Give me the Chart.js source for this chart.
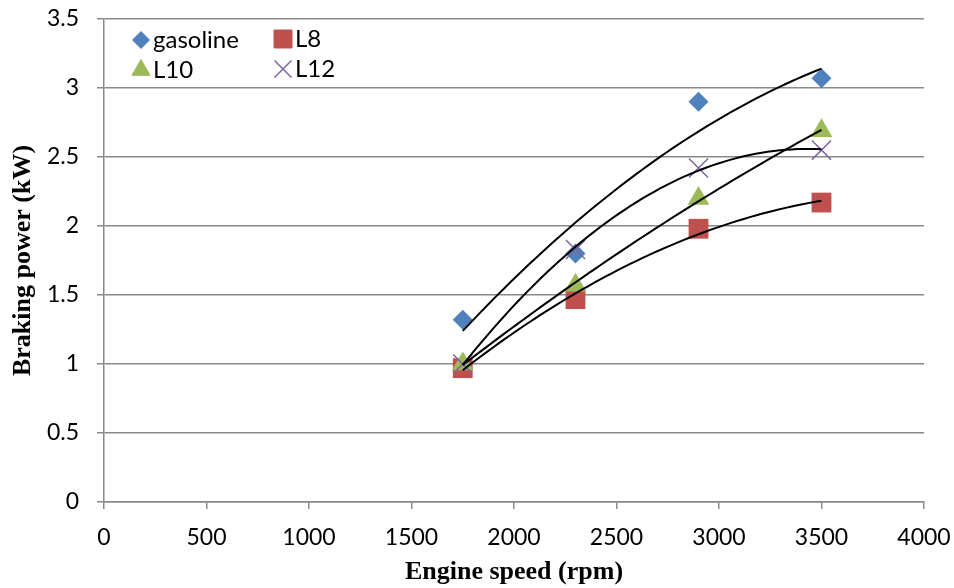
<!DOCTYPE html>
<html>
<head>
<meta charset="utf-8">
<script src="https://cdn.jsdelivr.net/npm/chart.js@4"></script>
<style>
  body { margin: 0; background: #fff; }
  canvas { display: block; }
</style>
</head>
<body>
<canvas id="myChart" width="954" height="588"></canvas>
<script>
// engine speed (rpm)
const speeds = [1750, 2300, 2900, 3500];
// braking power (kW)
const gasoline = [1.32, 1.80, 2.90, 3.07];
const l8 = [0.97, 1.47, 1.98, 2.17];
const l10 = [1.00, 1.57, 2.20, 2.69];
const l12 = [1.00, 1.83, 2.42, 2.55];

const seriesNames = ['gasoline', 'L8', 'L10', 'L12'];
const seriesColors = ['#4F81BD', '#C0504D', '#9BBB59', '#8064A2'];
const seriesStyles = ['rectRot', 'rect', 'triangle', 'crossRot'];
const seriesRadius = [10, 14, 12.5, 13.5];
const legendRadius = [8.5, 12.7, 10.5, 12];

const xTicks = [0, 500, 1000, 1500, 2000, 2500, 3000, 3500, 4000];
const yTicks = [0, 0.5, 1, 1.5, 2, 2.5, 3, 3.5];

function toPoints(ys) {
    return speeds.map((x, i) => ({ x: x, y: ys[i] }));
}

// least squares, order 2 (like the excel trendline)
function polyFit2(xs, ys) {
    let s = [0, 0, 0, 0, 0], t = [0, 0, 0];
    xs.forEach((x0, i) => {
        const x = x0 / 1000;
        for (let k = 0; k < 5; k++) s[k] += Math.pow(x, k);
        for (let k = 0; k < 3; k++) t[k] += ys[i] * Math.pow(x, k);
    });
    const m = [[s[0], s[1], s[2], t[0]], [s[1], s[2], s[3], t[1]], [s[2], s[3], s[4], t[2]]];
    for (let i = 0; i < 3; i++) {
        for (let j = i + 1; j < 3; j++) {
            const f = m[j][i] / m[i][i];
            for (let k = i; k < 4; k++) m[j][k] -= f * m[i][k];
        }
    }
    const c = [0, 0, 0];
    for (let i = 2; i >= 0; i--) {
        let v = m[i][3];
        for (let k = i + 1; k < 3; k++) v -= m[i][k] * c[k];
        c[i] = v / m[i][i];
    }
    return x0 => { const x = x0 / 1000; return c[0] + c[1] * x + c[2] * x * x; };
}

const allSeries = [gasoline, l8, l10, l12];

const trendPlugin = {
    id: 'trend',
    afterDatasetsDraw(chart) {
        const ctx = chart.ctx;
        const xs = chart.scales.x, ys = chart.scales.y;
        ctx.save();
        ctx.strokeStyle = '#000';
        ctx.lineWidth = 2;
        allSeries.forEach(vals => {
            const f = polyFit2(speeds, vals);
            const x0 = speeds[0], x1 = speeds[speeds.length - 1];
            ctx.beginPath();
            for (let i = 0; i <= 60; i++) {
                const xv = x0 + (x1 - x0) * i / 60;
                const px = xs.getPixelForValue(xv), py = ys.getPixelForValue(f(xv));
                if (i === 0) ctx.moveTo(px, py); else ctx.lineTo(px, py);
            }
            ctx.stroke();
        });
        ctx.restore();
    }
};

const legendPlugin = {
    id: 'boxLegend',
    afterDraw(chart) {
        const ctx = chart.ctx;
        const spots = [[141, 40], [283, 39], [141, 70], [283, 69]];
        ctx.save();
        ctx.font = '24px Lato';
        ctx.textBaseline = 'middle';
        seriesNames.forEach((name, i) => {
            const [x, y] = spots[i];
            ctx.fillStyle = seriesColors[i];
            ctx.strokeStyle = seriesColors[i];
            ctx.lineWidth = seriesStyles[i] === 'crossRot' ? 1.5 : 1;
            Chart.helpers.drawPoint(ctx, {
                pointStyle: seriesStyles[i],
                radius: legendRadius[i],
                rotation: 0,
                borderWidth: ctx.lineWidth
            }, x, y);
            ctx.fillStyle = '#000';
            ctx.fillText(name, x + 12, y);
        });
        ctx.restore();
    }
};

// keep the plot box where it is in the picture
function noEdgePadding(axis) {
    axis.paddingTop = 0;
    axis.paddingBottom = 0;
    axis.paddingLeft = 0;
    axis.paddingRight = 0;
}

new Chart('myChart', {
    type: 'scatter',
    data: {
        datasets: allSeries.map((vals, i) => ({
            label: seriesNames[i],
            data: toPoints(vals),
            pointStyle: seriesStyles[i],
            pointRadius: seriesRadius[i],
            pointHoverRadius: seriesRadius[i],
            backgroundColor: seriesColors[i],
            borderColor: seriesColors[i],
            pointBorderWidth: seriesStyles[i] === 'crossRot' ? 1.5 : 0,
            order: 3 - i
        }))
    },
    options: {
        responsive: false,
        animation: false,
        layout: { padding: { top: 19, right: 30, left: 0, bottom: 0 } },
        plugins: {
            legend: { display: false },
            tooltip: { enabled: false }
        },
        scales: {
            x: {
                type: 'linear',
                min: 0,
                max: 4000,
                afterBuildTicks: axis => { axis.ticks = xTicks.map(v => ({ value: v })); },
                afterFit: axis => { axis.height = 86; noEdgePadding(axis); },
                ticks: {
                    color: '#000', font: { family: 'Lato', size: 23 }, padding: 15, maxRotation: 0,
                    autoSkip: false,
                    callback: v => String(v)
                },
                grid: { drawOnChartArea: false, drawTicks: true, tickLength: 7, color: '#898989', lineWidth: 1.5 },
                border: { color: '#898989', width: 1.5 },
                title: {
                    display: true,
                    text: 'Engine speed (rpm)',
                    color: '#000',
                    font: { family: 'Liberation Serif', size: 26, weight: 'bold' },
                    padding: { top: 4, bottom: 0 }
                }
            },
            y: {
                min: 0,
                max: 3.5,
                afterBuildTicks: axis => { axis.ticks = yTicks.map(v => ({ value: v })); },
                afterFit: axis => { axis.width = 104; noEdgePadding(axis); },
                ticks: {
                    color: '#000', font: { family: 'Lato', size: 23 }, padding: 18,
                    autoSkip: false,
                    callback: v => String(v)
                },
                grid: { color: '#898989', lineWidth: 1.5, tickLength: 7 },
                border: { color: '#898989', width: 1.5 },
                title: {
                    display: true,
                    text: 'Braking power (kW)',
                    color: '#000',
                    font: { family: 'Liberation Serif', size: 26, weight: 'bold' },
                    padding: { top: 8, bottom: 0 }
                }
            }
        }
    },
    plugins: [trendPlugin, legendPlugin]
});
</script>
</body>
</html>
